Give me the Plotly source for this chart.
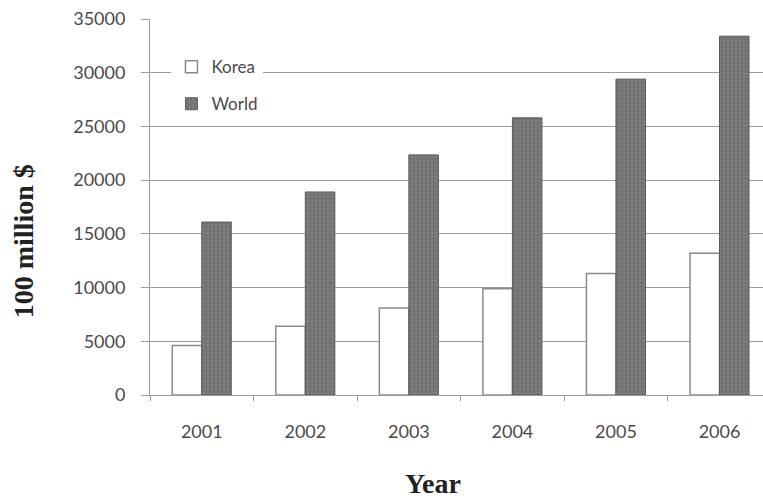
import plotly.graph_objects as go

# Export value by year, in units of 100 million dollars
years = ["2001", "2002", "2003", "2004", "2005", "2006"]
korea = [4600, 6400, 8100, 9900, 11300, 13200]
world = [16100, 18900, 22350, 25800, 29400, 33400]
y_ticks = [0, 5000, 10000, 15000, 20000, 25000, 30000, 35000]

TICK_FONT = dict(family="Lato, 'Open Sans', sans-serif", size=18, color="#4a4a4a")
GRID = "#9c9c9c"

fig = go.Figure()
fig.add_trace(go.Bar(
    x=years, y=korea, name="Korea", legendgroup="k",
    marker=dict(color="white", line=dict(color="#8a8a8a", width=1.5)),
))
fig.add_trace(go.Bar(
    x=years, y=world, name="World", legendgroup="w",
    marker=dict(
        color="#727272",
        line=dict(color="#5a5a5a", width=1),
        pattern=dict(shape=".", fgcolor="#939393", size=4, solidity=0.25),
    ),
))

fig.update_layout(
    width=763, height=504,
    margin=dict(l=150, r=0, t=19, b=109),
    paper_bgcolor="white", plot_bgcolor="white",
    barmode="group", bargap=0.43, bargroupgap=0,
    showlegend=True,
    legend=dict(
        x=0.035, y=0.92, xanchor="left", yanchor="top",
        bgcolor="white", borderwidth=0,
        font=dict(family="Lato, 'Open Sans', sans-serif", size=17, color="#4a4a4a"),
        traceorder="grouped", tracegroupgap=12, itemwidth=30,
    ),
    xaxis=dict(
        type="category", range=[-0.5, 5.42],
        showline=True, linecolor=GRID, linewidth=1,
        ticks="outside", tickson="boundaries", ticklen=5, tickcolor=GRID,
        tickfont=TICK_FONT, ticklabelstandoff=20,
        showgrid=False,
    ),
    yaxis=dict(
        range=[0, 35000], tickvals=y_ticks, tickformat="d",
        showline=True, linecolor=GRID, linewidth=1,
        ticks="outside", ticklen=8, tickcolor=GRID,
        tickfont=TICK_FONT, ticklabelstandoff=12,
        showgrid=True, gridcolor=GRID, gridwidth=1,
        zeroline=False,
    ),
    annotations=[
        dict(text="<b>100 million $</b>", xref="paper", yref="paper",
             x=-0.235, y=0.41, textangle=-90, showarrow=False,
             font=dict(family="'Liberation Serif', 'DejaVu Serif', serif", size=28, color="#222")),
        dict(text="<b>Year</b>", xref="paper", yref="paper",
             x=0.462, y=-0.282, showarrow=False,
             font=dict(family="'Liberation Serif', 'DejaVu Serif', serif", size=28, color="#222")),
    ],
)

fig.write_html("out.html")
